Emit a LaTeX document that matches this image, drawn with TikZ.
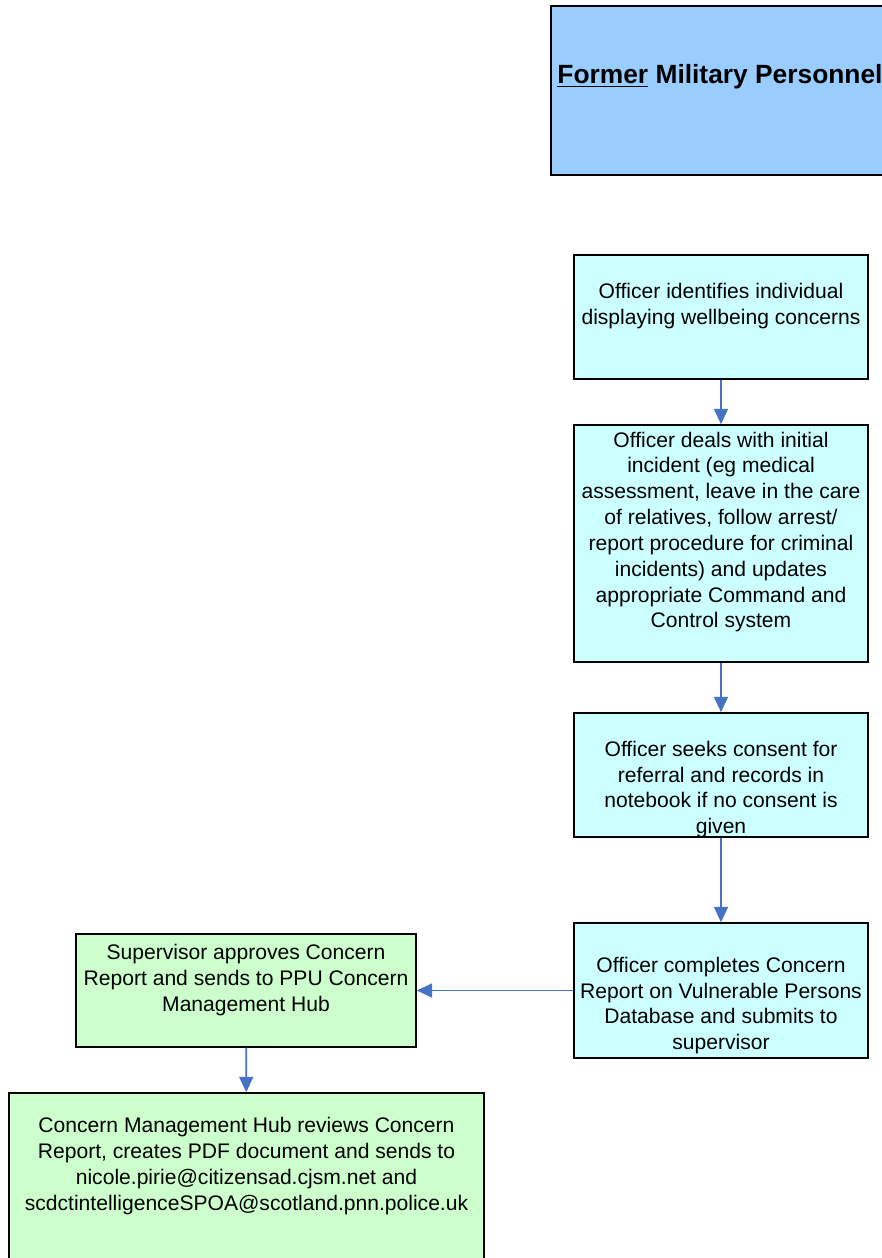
\documentclass[tikz,border=0pt]{standalone}
\usepackage{fontspec}
\setmainfont{Liberation Sans}
\usepackage{tikz}
\usetikzlibrary{positioning,arrows.meta}
\definecolor{hdrBlue}{RGB}{153,204,255}
\definecolor{stepCyan}{RGB}{204,255,255}
\definecolor{stepGreen}{RGB}{204,255,204}
\definecolor{arrBlue}{RGB}{68,114,196}

\begin{document}
\begin{tikzpicture}[x=0.02cm, y=-0.02cm,
  hdr/.style={draw=black, fill=hdrBlue, line width=0.85pt, inner sep=0pt},
  cbox/.style={draw=black, fill=stepCyan, line width=0.85pt, inner sep=0pt,
               minimum width=5.88cm},
  gbox/.style={draw=black, fill=stepGreen, line width=0.85pt, inner sep=0pt},
  txt/.style={font=\fontsize{12}{14.7}\selectfont, align=center, inner sep=0pt},
  arr/.style={-{Triangle[length=3.1mm, width=2.8mm]}, line width=1pt, arrBlue}
]
\clip (0,0) rectangle (882,1258);
% header
\node[hdr, minimum width=6.78cm, minimum height=3.38cm] (Title) at (720.5,90.5) {};
\node[font=\fontsize{15}{18}\selectfont\bfseries, inner sep=0pt] (TitleT) at (720,77)
  {\underline{Former} Military Personnel};
% officer steps
\node[cbox, minimum height=2.48cm] (Idn) at (721,317) {};
\node[cbox, minimum height=4.74cm] (Dl)  at (721,543.5) {};
\node[cbox, minimum height=2.48cm] (Cns) at (721,775) {};
\node[cbox, minimum height=2.7cm]  (Rep) at (721,990.5) {};
\node[txt] (IdnT) at (721,306) {Officer identifies individual\\displaying wellbeing concerns};
\node[txt] (DlT)  at (721,532) {Officer deals with initial\\incident (eg medical\\assessment, leave in the care\\of relatives, follow arrest/\\report procedure for criminal\\incidents) and updates\\appropriate Command and\\Control system};
\node[txt] (CnsT) at (721,789.5) {Officer seeks consent for\\referral and records in\\notebook if no consent is\\given};
\node[txt] (RepT) at (721,1005.5) {Officer completes Concern\\Report on Vulnerable Persons\\Database and submits to\\supervisor};
% supervisor / hub
\node[gbox, minimum width=6.8cm, minimum height=2.26cm] (Sup) at (246,990.5) {};
\node[gbox, minimum width=9.5cm, minimum height=3.94cm] (Hub) at (246.5,1191.5) {};
\node[txt] (SupT) at (246,980) {Supervisor approves Concern\\Report and sends to PPU Concern\\Management Hub};
\node[txt] (HubT) at (246.5,1166) {Concern Management Hub reviews Concern\\Report, creates PDF document and sends to\\nicole.pirie@citizensad.cjsm.net and\\scdctintelligenceSPOA@scotland.pnn.police.uk};
\foreach \a/\b in {Idn/Dl,Dl/Cns,Cns/Rep}
  \draw[arr] (\a) -- (\b);
\draw[arr] (Rep) -- (Sup);
\draw[arr] (Sup) -- (Hub);
\end{tikzpicture}
\end{document}
